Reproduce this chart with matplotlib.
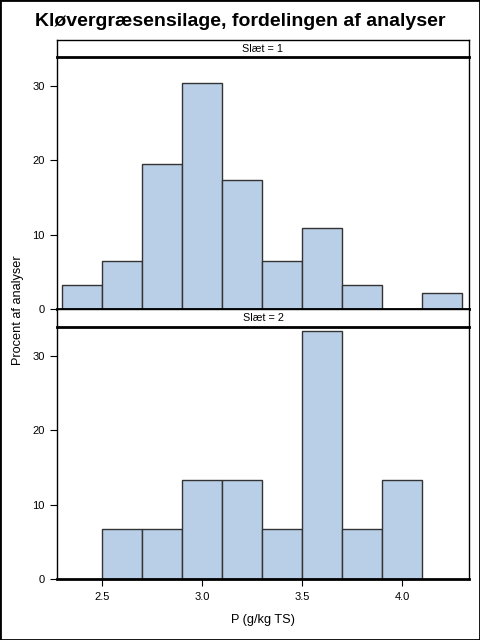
import matplotlib
matplotlib.use("Agg")
import matplotlib.pyplot as plt
from matplotlib.patches import Rectangle

plt.rcParams["font.family"] = ["Liberation Sans", "DejaVu Sans"]

# histogram data (percent of analyses per 0.2 bin)
bin_left_1 = [2.3, 2.5, 2.7, 2.9, 3.1, 3.3, 3.5, 3.7, 3.9, 4.1]
pct_1 = [3.26, 6.52, 19.57, 30.43, 17.39, 6.52, 10.87, 3.26, 0.0, 2.17]
bin_left_2 = [2.5, 2.7, 2.9, 3.1, 3.3, 3.5, 3.7, 3.9]
pct_2 = [6.67, 6.67, 13.33, 13.33, 6.67, 33.33, 6.67, 13.33]
panel_labels = ["Slæt = 1", "Slæt = 2"]
xticks = [2.5, 3.0, 3.5, 4.0]
yticks = [0, 10, 20, 30]

bar_color = "#B9CFE7"
edge_color = "#333333"

fig = plt.figure(figsize=(4.8, 6.4), dpi=100)
W, H = 480.0, 640.0


def box(x0, y0, x1, y1):
    # pixel coords (top-left origin) -> figure fraction rect
    return [x0 / W, 1 - y1 / H, (x1 - x0) / W, (y1 - y0) / H]


ax1 = fig.add_axes(box(57, 57, 469, 309))
ax2 = fig.add_axes(box(57, 327, 469, 579))
s1 = fig.add_axes(box(57, 40, 469, 57))
s2 = fig.add_axes(box(57, 309, 469, 327))

for ax, lefts, vals in [(ax1, bin_left_1, pct_1), (ax2, bin_left_2, pct_2)]:
    ax.bar(lefts, vals, width=0.2, align="edge", color=bar_color,
           edgecolor=edge_color, linewidth=1.0, zorder=2)
    ax.set_xlim(2.275, 4.335)
    ax.set_ylim(0, 33.9)
    ax.set_yticks(yticks)
    ax.tick_params(axis="both", direction="out", length=5, width=0.8,
                   labelsize=8, colors="black", pad=4)
    ax.spines["top"].set_visible(False)
    ax.spines["right"].set_linewidth(1.0)
    ax.spines["left"].set_linewidth(1.0)
    ax.spines["bottom"].set_linewidth(2.0)

ax1.set_xticks([])
ax2.set_xticks(xticks)
ax2.set_xticklabels(["%.1f" % t for t in xticks])

for s, lab in [(s1, panel_labels[0]), (s2, panel_labels[1])]:
    s.set_xticks([])
    s.set_yticks([])
    for sp in s.spines.values():
        sp.set_linewidth(1.0)
    s.spines["bottom"].set_linewidth(2.0)
    s.text(0.5, 0.5, lab, ha="center", va="center", fontsize=7.8,
           transform=s.transAxes)

fig.text(240 / W, 1 - 21 / H, "Kløvergræsensilage, fordelingen af analyser",
         ha="center", va="center", fontsize=14, fontweight="bold")
fig.text(263 / W, 1 - 620 / H, "P (g/kg TS)", ha="center", va="center",
         fontsize=9.2)
fig.text(18 / W, 1 - 310 / H, "Procent af analyser", ha="center",
         va="center", rotation=90, fontsize=9.2)

fig.patches.append(Rectangle((0, 0), 1, 1, transform=fig.transFigure,
                             fill=False, edgecolor="black", linewidth=2))

fig.savefig("out.png", dpi=100)
